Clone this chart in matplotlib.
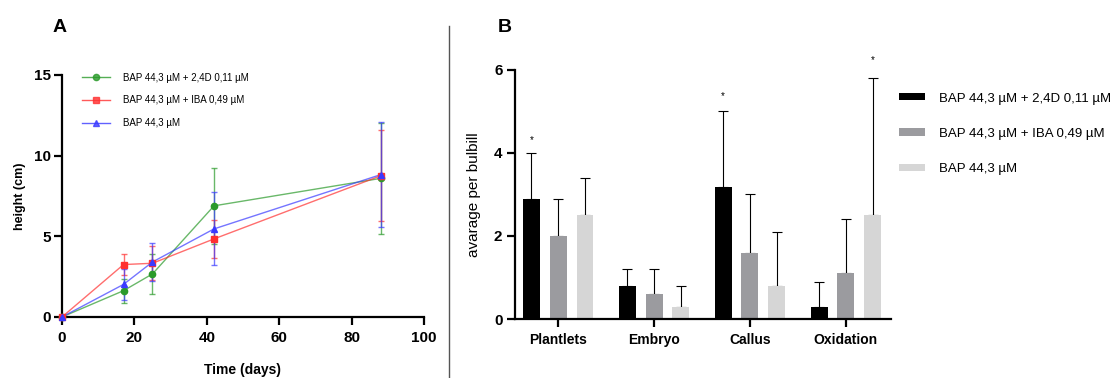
import numpy as np
import matplotlib.pyplot as plt
from matplotlib.lines import Line2D

plt.rcParams['font.family'] = ['Liberation Sans', 'DejaVu Sans']

# ---- Panel A data ----
days = [0, 17, 25, 42, 88]
labels_a = ['BAP 44,3 µM + 2,4D 0,11 µM', 'BAP 44,3 µM + IBA 0,49 µM', 'BAP 44,3 µM']
green_h = [0, 1.63, 2.67, 6.89, 8.59]
green_err = [0, 0.74, 1.24, 2.36, 3.45]
red_h = [0, 3.25, 3.33, 4.84, 8.75]
red_err = [0, 0.66, 1.06, 1.19, 2.82]
blue_h = [0, 2.02, 3.41, 5.46, 8.82]
blue_err = [0, 0.95, 1.17, 2.26, 3.25]

# ---- Panel B data ----
categories = ['Plantlets', 'Embryo', 'Callus', 'Oxidation']
black_v = [2.9, 0.8, 3.19, 0.3]
black_up = [4.0, 1.2, 5.0, 0.9]
grey_v = [2.0, 0.6, 1.6, 1.1]
grey_up = [2.9, 1.2, 3.0, 2.4]
light_v = [2.5, 0.3, 0.8, 2.5]
light_up = [3.4, 0.8, 2.1, 5.8]
# stars: (category index, series index, height)
stars = [(0, 0, 4.3), (2, 0, 5.38), (3, 2, 6.24)]

fig = plt.figure(figsize=(11.13, 3.78), dpi=100)

# ---- Panel A ----
ax1 = fig.add_axes([0.0557, 0.1614, 0.3252, 0.6402])
series = [(green_h, green_err, '#2a9a2a', 'o'),
          (red_h, red_err, '#ff3030', 's'),
          (blue_h, blue_err, '#3a3aff', '^')]
for (h, e, c, m), lab in zip(series, labels_a):
    ax1.plot(days, h, color=c, lw=1, alpha=0.7, zorder=2, clip_on=False)
    ax1.errorbar(days, h, yerr=e, fmt='none', ecolor=c, elinewidth=1,
                 capsize=2.5, capthick=1, alpha=0.7, zorder=2)
    ax1.plot(days, h, ls='none', marker=m, color=c, ms=4.5, zorder=3,
             clip_on=False, label=lab)

ax1.set_xlim(0, 100)
ax1.set_ylim(0, 15)
ax1.set_xticks([0, 20, 40, 60, 80, 100])
ax1.set_yticks([0, 5, 10, 15])
for s in ['top', 'right']:
    ax1.spines[s].set_visible(False)
for s in ['left', 'bottom']:
    ax1.spines[s].set_linewidth(1.6)
ax1.tick_params(width=1.6, length=6, labelsize=11)
ax1.tick_params(axis='x', pad=4)
ax1.tick_params(axis='y', pad=2)
for t in ax1.get_xticklabels() + ax1.get_yticklabels():
    t.set_fontweight('bold')
ax1.set_xlabel('Time (days)', fontsize=10, fontweight='bold', labelpad=13)
ax1.set_ylabel('height (cm)', fontsize=9, fontweight='bold', labelpad=6)

handles = [Line2D([0], [0], color=c, lw=1, marker=m, ms=4.5, alpha=0.8)
           for (h, e, c, m) in series]
ax1.legend(handles, labels_a, loc='upper left', bbox_to_anchor=(0.03, 1.045),
           frameon=False, fontsize=7, handlelength=2.9, labelspacing=1.3,
           handletextpad=1.35)

fig.text(0.047, 0.915, 'A', fontsize=14, fontweight='bold')

# divider line
fig.add_artist(Line2D([0.4034, 0.4034], [0, 0.93], color='#555555', lw=1))

# ---- Panel B ----
ax2 = fig.add_axes([0.4627, 0.156, 0.3378, 0.659])
x = np.arange(len(categories))
w = 0.177
off = 0.28
bars = [(black_v, black_up, '#000000'),
        (grey_v, grey_up, '#9b9b9f'),
        (light_v, light_up, '#d6d6d6')]
for i, (v, up, c) in enumerate(bars):
    xs = x + (i - 1) * off
    ax2.bar(xs, v, width=w, color=c, label=labels_a[i], zorder=2)
    err = np.array(up) - np.array(v)
    ax2.errorbar(xs, v, yerr=[np.zeros(len(v)), err], fmt='none',
                 ecolor='black', elinewidth=0.8, capsize=3.5, capthick=0.8, zorder=1)
for ci, si, hy in stars:
    ax2.text(x[ci] + (si - 1) * off, hy, '*', ha='center', va='center', fontsize=7)

ax2.set_xlim(-0.45, 3.47)
ax2.set_ylim(0, 6)
ax2.set_yticks([0, 2, 4, 6])
ax2.set_xticks(x)
ax2.set_xticklabels(categories)
for s in ['top', 'right']:
    ax2.spines[s].set_visible(False)
for s in ['left', 'bottom']:
    ax2.spines[s].set_linewidth(1.6)
ax2.tick_params(width=1.6, length=6, pad=3)
ax2.tick_params(axis='y', labelsize=11)
ax2.tick_params(axis='x', labelsize=10, pad=4)
for t in ax2.get_xticklabels() + ax2.get_yticklabels():
    t.set_fontweight('bold')
ax2.set_ylabel('avarage per bulbill', fontsize=11, labelpad=9)
fig.legend(*ax2.get_legend_handles_labels(), loc='upper left',
           bbox_to_anchor=(0.8077, 0.755), frameon=False, borderpad=0,
           borderaxespad=0, fontsize=9.5, handlelength=2.0, handleheight=0.45,
           labelspacing=1.75, handletextpad=1.05)

fig.text(0.447, 0.915, 'B', fontsize=14, fontweight='bold')

fig.savefig('out.png', dpi=100)
